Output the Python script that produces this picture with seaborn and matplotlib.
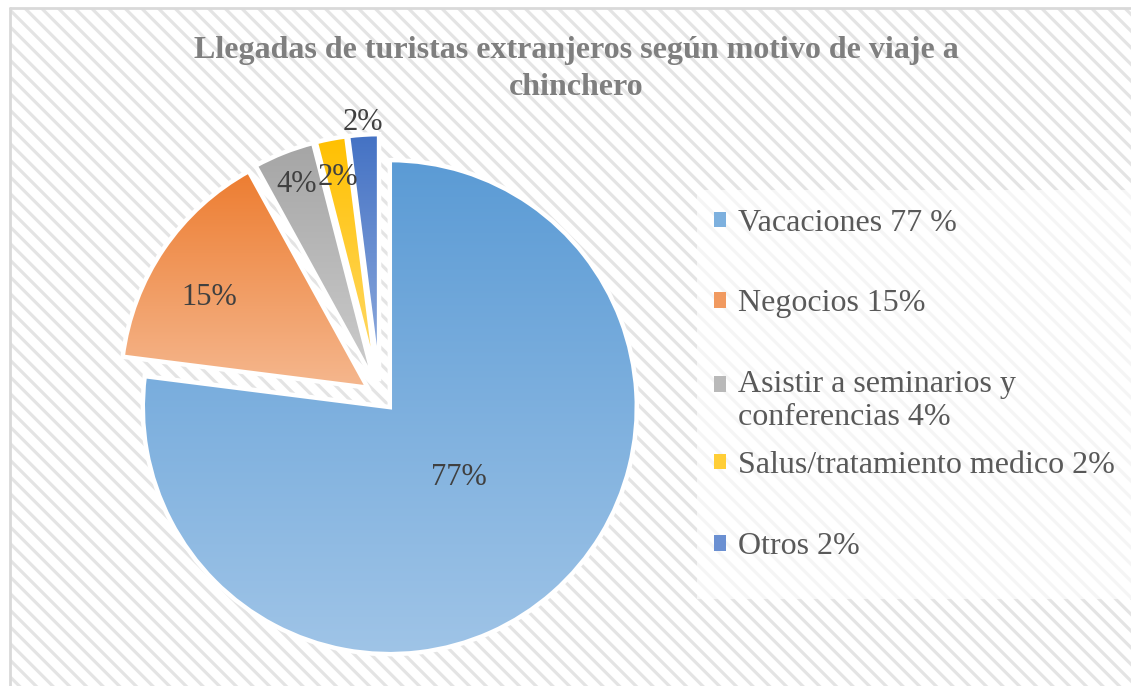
import numpy as np
import matplotlib
matplotlib.use('Agg')
import matplotlib.pyplot as plt
import matplotlib.patches as mpatches
from matplotlib.colors import LinearSegmentedColormap, to_rgb
from matplotlib.legend_handler import HandlerPatch
import seaborn as sns

title = "Llegadas de turistas extranjeros según motivo de viaje a\nchinchero"
categories = ["Vacaciones 77 %", "Negocios 15%", "Asistir a seminarios y\nconferencias 4%",
              "Salus/tratamiento medico 2%", "Otros 2%"]
values = [77, 15, 4, 2, 2]
top_colors = ['#5B9BD5', '#ED7D31', '#A5A5A5', '#FFC000', '#4472C4']
bottom_colors = ['#9FC4E7', '#F5B78E', '#CDCDCD', '#FFDB6E', '#93AEDF']

sns.set_theme(style='white')
plt.rcParams['font.family'] = ['Liberation Serif', 'DejaVu Serif']
plt.rcParams['hatch.linewidth'] = 2.3

W, H = 1131, 686
fig = plt.figure(figsize=(W / 100, H / 100), dpi=100)
fig.patch.set_facecolor('white')

# hatched chart background
bg = mpatches.Rectangle((10 / W, 0), 1 - 10 / W, 678 / H, transform=fig.transFigure,
                        facecolor='white', edgecolor='#E4E4E4', hatch='\\\\', lw=0, zorder=-10)
fig.patches.append(bg)
fig.add_artist(plt.Line2D([10 / W, 1], [678 / H, 678 / H], color='#D9D9D9', lw=2,
                          transform=fig.transFigure))
fig.add_artist(plt.Line2D([10 / W, 10 / W], [0, 678 / H], color='#D9D9D9', lw=2,
                          transform=fig.transFigure))
# legend area (semi-transparent white)
lb = mpatches.Rectangle((697 / W, (H - 599) / H), 1 - 697 / W, (599 - 190) / H,
                        transform=fig.transFigure, facecolor='white', alpha=0.65, lw=0, zorder=-5)
fig.patches.append(lb)

# title
fig.text(576 / W, 1 - 36 / H, title, ha='center', va='top', fontsize=23, fontweight='bold',
         color='#7F7F7F', linespacing=1.36)

# pie
R = 247.0
cx, cy = 380.0, H - 396.0
ax = fig.add_axes([100 / W, 30 / H, 560 / W, 570 / H])
wedges, _ = ax.pie(values, startangle=90, counterclock=False, explode=[0.06] * len(values),
                   radius=1, wedgeprops=dict(edgecolor='white', linewidth=3.2))
ax.set_aspect('auto')
ax.axis('off')
ax.patch.set_alpha(0)

grad = np.linspace(0, 1, 256).reshape(-1, 1)
for w, c0, c1 in zip(wedges, top_colors, bottom_colors):
    ext = w.get_path().get_extents()
    cmap = LinearSegmentedColormap.from_list('g', [c1, c0])
    im = ax.imshow(grad, extent=[ext.x0, ext.x1, ext.y0, ext.y1], origin='lower', cmap=cmap,
                   aspect='auto', zorder=0.5, interpolation='bilinear')
    im.set_clip_path(w)
    w.set_facecolor('none')
ax.set_xlim((100 - cx) / R, (660 - cx) / R)
ax.set_ylim((30 - cy) / R, (600 - cy) / R)

label_dist = [0.40, 0.74, 0.86, 0.84, 1.05]
label_turn = [3.0, 4.5, 0.0, 0.0, 0.0]
for w, v, d, t in zip(wedges, values, label_dist, label_turn):
    ang = np.deg2rad((w.theta1 + w.theta2) / 2 + t)
    x = w.center[0] + d * w.r * np.cos(ang)
    y = w.center[1] + d * w.r * np.sin(ang)
    ax.text(x, y, f"{v}%", ha='center', va='center', fontsize=22, color='#404040', zorder=5)

# legend
def mix(a, b):
    a, b = np.array(to_rgb(a)), np.array(to_rgb(b))
    return tuple((a + b) / 2)

handles = [mpatches.Patch(facecolor=mix(a, b), edgecolor='none')
           for a, b in zip(top_colors, bottom_colors)]


def top_line_patch(legend, orig_handle, xdescent, ydescent, width, height, fontsize):
    return mpatches.Rectangle((-xdescent, -ydescent + 12.0), width, height)


leg_kw = dict(frameon=False, fontsize=23, labelcolor='#595959', handlelength=0.36,
              handleheight=0.36, handletextpad=0.40, borderpad=0, borderaxespad=0)
leg1 = fig.legend(handles[:3], categories[:3], loc='upper left',
                  bbox_to_anchor=(714 / W, 1 - 209 / H), labelspacing=1.61,
                  handler_map={handles[2]: HandlerPatch(patch_func=top_line_patch)}, **leg_kw)
leg2 = fig.legend(handles[3:], categories[3:], loc='upper left',
                  bbox_to_anchor=(714 / W, 1 - 451 / H), labelspacing=1.64, **leg_kw)

fig.savefig('out.png', dpi=100)
